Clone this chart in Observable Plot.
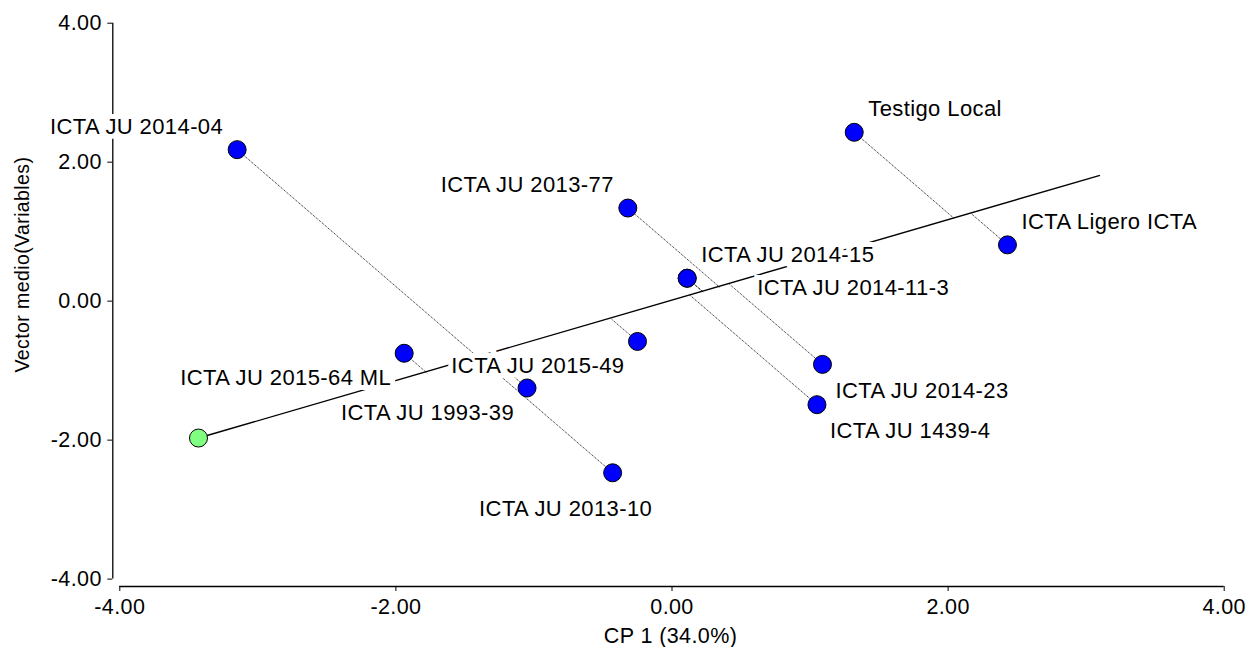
<!DOCTYPE html>
<html>
<head>
<meta charset="utf-8">
<script src="https://cdn.jsdelivr.net/npm/d3@7"></script>
<script src="https://cdn.jsdelivr.net/npm/@observablehq/plot@0.6"></script>
<style>
  html, body { margin: 0; padding: 0; background: white; }
</style>
</head>
<body>
<div id="chart"></div>
<script>
// ---- Data ----
const genotypes = [
  "ICTA JU 2014-04", "Testigo Local", "ICTA JU 2013-77", "ICTA Ligero ICTA",
  "ICTA JU 2014-15", "ICTA JU 2014-11-3", "ICTA JU 2015-49", "ICTA JU 2015-64 ML",
  "ICTA JU 1993-39", "ICTA JU 2014-23", "ICTA JU 1439-4", "ICTA JU 2013-10"
];
const cp1 = [-3.15, 1.32, -0.32, 2.43, 0.11, 0.11, -0.25, -1.94, -1.05, 1.09, 1.05, -0.43];
const vectorMedio = [2.18, 2.43, 1.34, 0.81, 0.33, 0.33, -0.58, -0.75, -1.25, -0.91, -1.49, -2.47];
const meanVectorStart = [-3.43, -1.97];
const meanVectorEnd = [3.10, 1.81];
const xTicks = [-4, -2, 0, 2, 4];
const yTicks = [-4, -2, 0, 2, 4];
const xLabel = "CP 1 (34.0%)";
const yLabel = "Vector medio(Variables)";

// ---- Derived table ----
const [dx0, dy0] = meanVectorEnd;
const dd = dx0 * dx0 + dy0 * dy0;
const points = genotypes.map((name, i) => {
  const x = cp1[i], y = vectorMedio[i];
  const t = (x * dx0 + y * dy0) / dd; // projection onto the mean vector axis
  return {name, x, y, px: t * dx0, py: t * dy0};
});

// label placement around each point
const placement = {
  "ICTA JU 2014-04": "nw", "Testigo Local": "ne", "ICTA JU 2013-77": "nw",
  "ICTA Ligero ICTA": "ne", "ICTA JU 2014-15": "ne", "ICTA JU 2014-11-3": "e",
  "ICTA JU 2015-49": "sw", "ICTA JU 2015-64 ML": "sw", "ICTA JU 1993-39": "sw",
  "ICTA JU 2014-23": "se", "ICTA JU 1439-4": "se", "ICTA JU 2013-10": "s"
};
const offsets = {
  nw: {textAnchor: "end", dx: -14, dy: -23},
  ne: {textAnchor: "start", dx: 14, dy: -23},
  sw: {textAnchor: "end", dx: -13, dy: 25},
  se: {textAnchor: "start", dx: 13, dy: 26.5},
  e:  {textAnchor: "start", dx: 70, dy: 10},
  s:  {textAnchor: "middle", dx: -47, dy: 36}
};

const fmt = d => d.toFixed(2);
const labelFont = 22;

const labelMarks = Object.entries(offsets).map(([key, o]) =>
  Plot.text(points.filter(d => placement[d.name] === key), {
    x: "x", y: "y", text: "name",
    textAnchor: o.textAnchor, dx: o.dx, dy: o.dy,
    fontSize: labelFont, fill: "black",
    stroke: "white", strokeWidth: 10, strokeLinejoin: "miter"
  })
);

const chart = Plot.plot({
  width: 1248,
  height: 647,
  marginLeft: 112.3,
  marginRight: 24.3,
  marginTop: 22.7,
  marginBottom: 61,
  style: {
    fontFamily: "'Liberation Sans', Arial, sans-serif",
    fontSize: "21.5px",
    letterSpacing: "0.4px",
    background: "white",
    color: "black",
    overflow: "visible"
  },
  x: {domain: [-4, 4], insetLeft: 7, ticks: xTicks, tickFormat: fmt, tickSize: 5, tickPadding: 7, label: null},
  y: {domain: [-4, 4], insetBottom: 7.4, ticks: yTicks, tickFormat: fmt, tickSize: 5, tickPadding: 6, label: null},
  marks: [
    // axis lines (offset from the data area)
    Plot.ruleX([-4], {y1: -4, y2: 4, dx: -7, stroke: "black", strokeWidth: 1.3}),
    Plot.ruleY([-4], {x1: -4, x2: 4, dy: 7.4, stroke: "black", strokeWidth: 1.3}),
    // projections onto the mean vector
    Plot.link(points, {x1: "x", y1: "y", x2: "px", y2: "py", stroke: "#111", strokeWidth: 1, strokeDasharray: "1,1"}),
    // mean vector axis
    Plot.link([0], {x1: () => meanVectorStart[0], y1: () => meanVectorStart[1], x2: () => meanVectorEnd[0], y2: () => meanVectorEnd[1], stroke: "black", strokeWidth: 1.4}),
    ...labelMarks,
    Plot.dot(points, {x: "x", y: "y", r: 9, fill: "#0000ff", stroke: "black", strokeWidth: 1}),
    Plot.dot([0], {x: () => meanVectorStart[0], y: () => meanVectorStart[1], r: 9, fill: "#80ff80", stroke: "black", strokeWidth: 1}),
    // axis titles
    Plot.text([xLabel], {text: d => d, frameAnchor: "bottom", lineAnchor: "middle", textAnchor: "middle", dx: 2, dy: 50, fontSize: 21.5}),
    Plot.text([yLabel], {text: d => d, frameAnchor: "left", lineAnchor: "middle", textAnchor: "middle", rotate: -90, dx: -90.3, dy: -40.3, fontSize: 19.5, letterSpacing: 0})
  ]
});
document.getElementById("chart").appendChild(chart);
</script>
</body>
</html>
